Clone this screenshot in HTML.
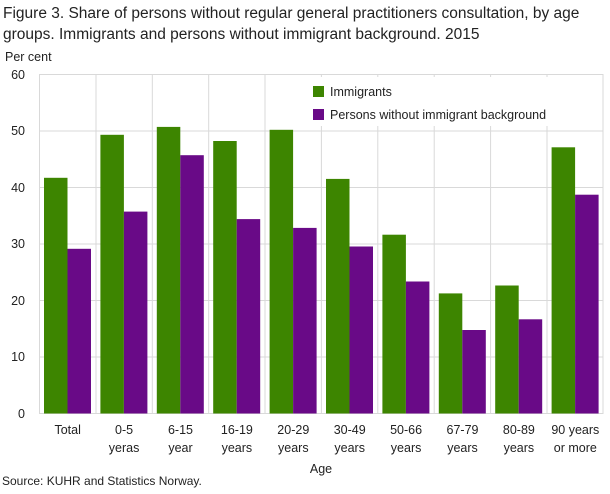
<!DOCTYPE html>
<html><head><meta charset="utf-8"><style>
body{margin:0;background:#fff;}
svg text{font-family:"Liberation Sans",sans-serif;fill:#222;}
</style></head><body>
<svg width="610" height="489" xmlns="http://www.w3.org/2000/svg">
<text x="3" y="18" font-size="15.5">Figure 3. Share of persons without regular general practitioners consultation, by age</text>
<text x="3" y="39" font-size="15.5">groups. Immigrants and persons without immigrant background. 2015</text>
<text x="5" y="61" font-size="12.5">Per cent</text>
<g stroke="#d9d9d9" stroke-width="1">
<line x1="39.5" y1="74.5" x2="603" y2="74.5"/>
<line x1="39.5" y1="131" x2="603" y2="131"/>
<line x1="39.5" y1="187.5" x2="603" y2="187.5"/>
<line x1="39.5" y1="244" x2="603" y2="244"/>
<line x1="39.5" y1="300.5" x2="603" y2="300.5"/>
<line x1="39.5" y1="357" x2="603" y2="357"/>
<line x1="39.5" y1="413.5" x2="603" y2="413.5"/>
<line x1="39.5" y1="74" x2="39.5" y2="414"/>
<line x1="96" y1="74" x2="96" y2="414"/>
<line x1="152.3" y1="74" x2="152.3" y2="414"/>
<line x1="208.7" y1="74" x2="208.7" y2="414"/>
<line x1="265" y1="74" x2="265" y2="414"/>
<line x1="321.4" y1="74" x2="321.4" y2="414"/>
<line x1="377.8" y1="74" x2="377.8" y2="414"/>
<line x1="434.2" y1="74" x2="434.2" y2="414"/>
<line x1="490.6" y1="74" x2="490.6" y2="414"/>
<line x1="547" y1="74" x2="547" y2="414"/>
<line x1="603" y1="74" x2="603" y2="414"/>
</g>
<g font-size="12.5" text-anchor="end">
<text x="25" y="79">60</text><text x="25" y="135">50</text><text x="25" y="192">40</text>
<text x="25" y="248">30</text><text x="25" y="305">20</text><text x="25" y="361">10</text><text x="25" y="418">0</text>
</g>
<g fill="#3d8500">
<rect x="44" y="177.8" width="23.5" height="235.7"/>
<rect x="100.4" y="134.8" width="23.5" height="278.7"/>
<rect x="156.8" y="126.9" width="23.5" height="286.6"/>
<rect x="213.2" y="141" width="23.5" height="272.5"/>
<rect x="269.6" y="129.8" width="23.5" height="283.7"/>
<rect x="326" y="178.9" width="23.5" height="234.6"/>
<rect x="382.4" y="234.7" width="23.5" height="178.8"/>
<rect x="438.8" y="293.4" width="23.5" height="120.1"/>
<rect x="495.2" y="285.5" width="23.5" height="128"/>
<rect x="551.6" y="147.3" width="23.5" height="266.2"/>
</g>
<g fill="#690a87">
<rect x="67.5" y="248.8" width="23.5" height="164.7"/>
<rect x="123.9" y="211.6" width="23.5" height="201.9"/>
<rect x="180.3" y="155.2" width="23.5" height="258.3"/>
<rect x="236.7" y="219.1" width="23.5" height="194.4"/>
<rect x="293.1" y="227.9" width="23.5" height="185.6"/>
<rect x="349.5" y="246.5" width="23.5" height="167"/>
<rect x="405.9" y="281.5" width="23.5" height="132"/>
<rect x="462.3" y="330" width="23.5" height="83.5"/>
<rect x="518.7" y="319.3" width="23.5" height="94.2"/>
<rect x="575.1" y="194.7" width="23.5" height="218.8"/>
</g>
<rect x="305" y="77" width="278" height="49" fill="#fff"/>
<rect x="313" y="86" width="11" height="11" fill="#3d8500"/>
<text x="330" y="96" font-size="12.5">Immigrants</text>
<rect x="313" y="109" width="11" height="11" fill="#690a87"/>
<text x="330" y="119" font-size="12.5">Persons without immigrant background</text>
<g font-size="12.5" text-anchor="middle">
<text x="67.7" y="434">Total</text>
<text x="124.1" y="434">0-5</text><text x="124.1" y="452">yeras</text>
<text x="180.5" y="434">6-15</text><text x="180.5" y="452">year</text>
<text x="236.9" y="434">16-19</text><text x="236.9" y="452">years</text>
<text x="293.3" y="434">20-29</text><text x="293.3" y="452">years</text>
<text x="349.7" y="434">30-49</text><text x="349.7" y="452">years</text>
<text x="406.1" y="434">50-66</text><text x="406.1" y="452">years</text>
<text x="462.5" y="434">67-79</text><text x="462.5" y="452">years</text>
<text x="518.9" y="434">80-89</text><text x="518.9" y="452">years</text>
<text x="575.3" y="434">90 years</text><text x="575.3" y="452">or more</text>
<text x="321" y="473">Age</text>
</g>
<text x="2" y="485" font-size="12">Source: KUHR and Statistics Norway.</text>
</svg>
</body></html>
